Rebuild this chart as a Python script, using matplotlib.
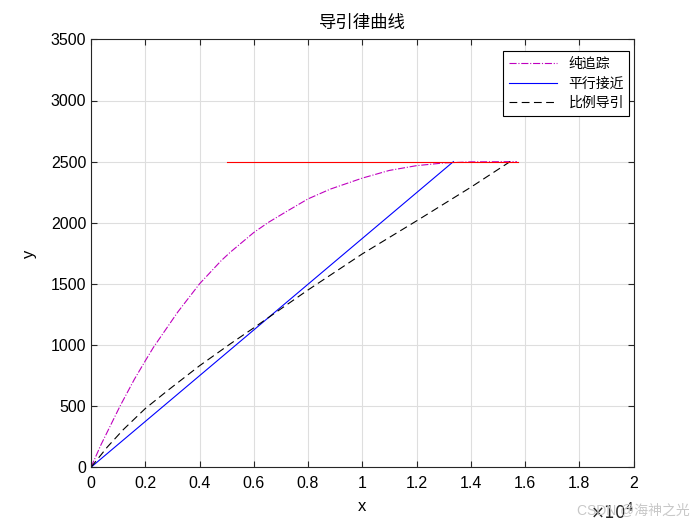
import matplotlib.pyplot as plt
from matplotlib.ticker import FuncFormatter

plt.rcParams['font.family'] = ['Liberation Sans', 'Noto Sans CJK SC']
plt.rcParams['axes.unicode_minus'] = False

# 纯追踪 (pure pursuit)
pp_x = [0, 370, 1070, 1600, 2000, 2300, 3200, 4000, 4800, 5140, 6000, 6540, 7230, 8000,
        8820, 10000, 11000, 12000, 13000, 14000, 15700]
pp_y = [0, 185, 500, 720, 870, 980, 1270, 1500, 1690, 1760, 1920, 2003, 2095, 2195,
        2275, 2365, 2428, 2467, 2489, 2498, 2500]

# 平行接近 (parallel approach)
pa_x = [0, 13360]
pa_y = [0, 2500]

# 比例导引 (proportional navigation)
pn_x = [0, 600, 1200, 2000, 2840, 4000, 5140, 6000, 6900, 8000, 10000, 12000, 14000, 15450]
pn_y = [0, 165, 310, 480, 630, 830, 1010, 1140, 1280, 1450, 1745, 2015, 2290, 2500]

# 目标轨迹 (target)
tg_x = [5000, 15750]
tg_y = [2500, 2500]

labels = ['纯追踪', '平行接近', '比例导引']

fig = plt.figure(figsize=(7, 5.25), dpi=100)
ax = fig.add_axes([0.13, 0.11, 0.775, 0.815])

ax.plot(pp_x, pp_y, '-.', color='m', lw=0.8, label=labels[0])
ax.plot(pa_x, pa_y, '-', color='b', lw=0.8, label=labels[1])
ax.plot(pn_x, pn_y, '--', color='k', lw=0.8, dashes=(7, 4), label=labels[2])
ax.plot(tg_x, tg_y, '-', color='r', lw=0.8)

ax.set_xlim(0, 20000)
ax.set_ylim(0, 3500)
ax.set_xticks(range(0, 20001, 2000))
ax.set_yticks(range(0, 3501, 500))
ax.xaxis.set_major_formatter(FuncFormatter(lambda v, p: '%g' % (v / 1e4)))
ax.text(1.0, -0.105, r'$\times 10^4$', transform=ax.transAxes, ha='right', va='center',
        fontsize=12, color='#262626')

ax.grid(True, color='#dedede', lw=0.8)
ax.set_axisbelow(True)
ax.tick_params(direction='in', top=True, right=True, labelsize=11.5, length=4, color='#262626')
ax.tick_params(axis='x', pad=6)
for s in ax.spines.values():
    s.set_color('#262626')
    s.set_linewidth(0.8)

ax.set_xlabel('x', fontsize=12, labelpad=6)
ax.set_ylabel('y', fontsize=12, labelpad=10)
ax.set_title('导引律曲线', fontsize=12.5, pad=8)

leg = ax.legend(loc='upper right', bbox_to_anchor=(0.9926, 0.972), borderaxespad=0,
                fontsize=10, fancybox=False, framealpha=1, edgecolor='k',
                handlelength=3.5, borderpad=0.4, labelspacing=0.4)
leg.get_frame().set_linewidth(0.8)

# watermark, overlaps the exponent label as in the source image
fig.text(0.985, 0.015, 'CSDN @海神之光', ha='right', va='bottom', fontsize=10, color='#c8c8c8')

fig.savefig('out.png', dpi=100)
